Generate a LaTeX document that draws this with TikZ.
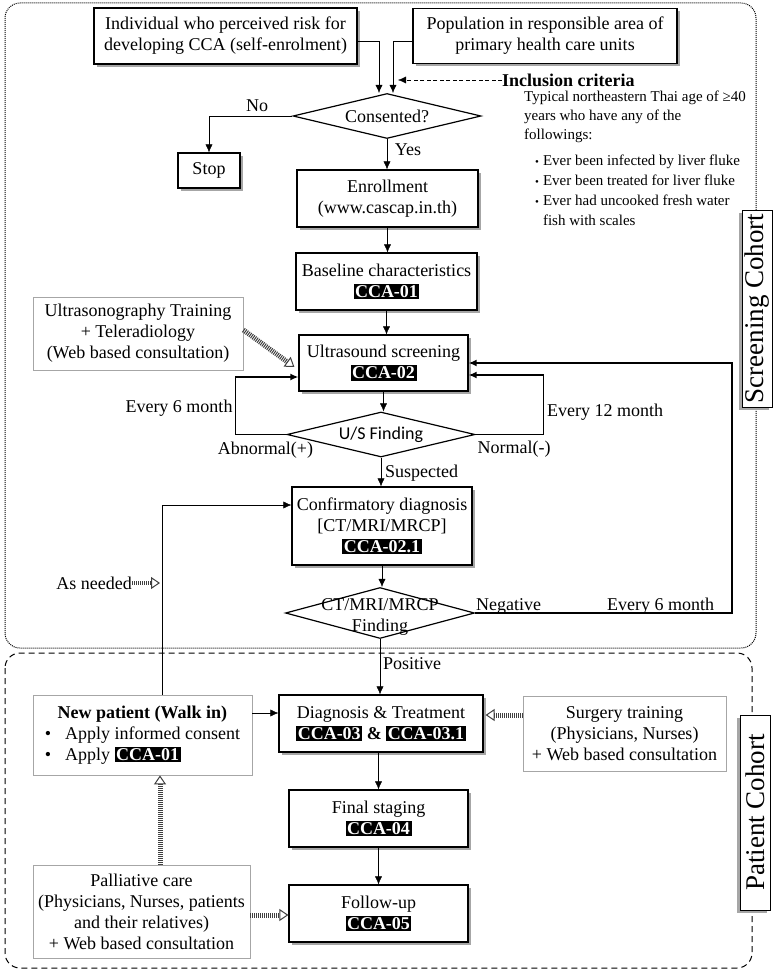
\documentclass[tikz,border=0pt]{standalone}
\usepackage{fontspec}
\setmainfont{Liberation Serif}
\newfontfamily\usfont{Carlito}
\usetikzlibrary{shapes.geometric,shadows,arrows.meta}
\tikzstyle{block}=[draw,line width=1.2pt,fill=white,align=center,inner sep=0pt,drop shadow={shadow xshift=3pt,shadow yshift=-3pt,fill=gray!70,opacity=1}]
\tikzstyle{note}=[draw=gray!70,line width=0.8pt,fill=white,align=center,inner sep=0pt]
\tikzstyle{decision}=[diamond,aspect=4,draw,line width=1.2pt,fill=white,inner sep=0pt]
\tikzstyle{cohort}=[draw,line width=0.8pt,fill=white,rotate=90,inner sep=0pt,font=\fontsize{27}{27}\selectfont,drop shadow={shadow xshift=-3pt,shadow yshift=-3pt,fill=gray!70,opacity=1}]
\tikzstyle{stripe}=[draw=gray!50!black,line width=5pt,dash pattern=on 1pt off 1pt,-{Triangle[open,length=9pt,width=12pt,line width=1pt]}]
\tikzstyle{loopline}=[->,line width=1.6pt]
\newcommand{\ccatag}[1]{{\setlength{\fboxsep}{1.5pt}\colorbox{black}{\textcolor{white}{\textbf{#1}}}}}

\begin{document}
\begin{tikzpicture}[x=1pt,y=-1pt,font=\fontsize{18}{21}\selectfont,>={Latex[length=8pt,width=7pt]}]
\fill[white] (0,0) rectangle (778,974);
\useasboundingbox (0,0) rectangle (778,974);
% cohort frames
\draw[dash pattern=on 1pt off 1pt,line width=1pt,rounded corners=15pt] (5,3) rectangle (756,648);
\draw[dash pattern=on 6pt off 4pt,line width=1pt,rounded corners=15pt] (5,653) rectangle (752,968);
\node[cohort,minimum width=197pt,minimum height=30pt] at (757,308.5) (screen) {Screening Cohort};
\node[cohort,minimum width=195pt,minimum height=30pt] at (755,812.5) (patient) {Patient Cohort};

% screening part
\node[block,minimum width=263pt,minimum height=56pt] at (225.5,36) (indiv) {Individual who perceived risk for\\developing CCA (self-enrolment)};
\node[block,minimum width=264pt,minimum height=55pt] at (545,36) (popul) {Population in responsible area of\\primary health care units};
\node[decision,minimum width=188pt,minimum height=45pt] at (387,116) (consent) {Consented?};
\node[block,minimum width=62pt,minimum height=35pt] at (209,170.5) (stop) {Stop};
\node[block,minimum width=181pt,minimum height=57pt] at (387.5,198.5) (enrol) {Enrollment\\(www.cascap.in.th)};
\node[block,minimum width=181pt,minimum height=57pt] at (386.5,281.5) (base) {Baseline characteristics\\\ccatag{CCA-01}};
\node[note,minimum width=210pt,minimum height=73pt] at (138,333.5) (train) {Ultrasonography Training\\+ Teleradiology\\(Web based consultation)};
\node[block,minimum width=169pt,minimum height=56pt] at (383.5,363) (us) {Ultrasound screening\\\ccatag{CCA-02}};
\node[decision,minimum width=188pt,minimum height=45pt] at (381,434.5) (usf) {\usfont U/S Finding};
\node[anchor=north west,align=left,inner sep=0pt] at (385,465) (susp) {Suspected\\CCA};
\node[block,minimum width=180pt,minimum height=78pt] at (382,526) (conf) {Confirmatory diagnosis\\{}[CT/MRI/MRCP]\\\ccatag{CCA-02.1}};
\node[decision,minimum width=189pt,minimum height=51pt] at (380,613) (ctf) {};
\node[align=center,inner sep=0pt] at (380,617) (ctftext) {CT/MRI/MRCP\\Finding};

% inclusion criteria
\node[anchor=west,inner sep=0pt,font=\fontsize{18}{21}\selectfont\bfseries] at (502,80) (inc) {Inclusion criteria};
\coordinate (incend) at (398,80);
\node[anchor=north west,align=left,inner sep=0pt,font=\fontsize{15}{19}\selectfont] at (524,91) (incdesc) {Typical northeastern Thai age of ≥40\\years who have any of the\\followings:};
\node[anchor=north west,inner sep=0pt,font=\fontsize{15}{20}\selectfont] at (535,151) (incitems) {\begin{tabular}{@{}l@{\hspace{4pt}}l@{}}
{\fontsize{11}{11}\selectfont\textbullet} & Ever been infected by liver fluke\\
{\fontsize{11}{11}\selectfont\textbullet} & Ever been treated for liver fluke\\
{\fontsize{11}{11}\selectfont\textbullet} & Ever had uncooked fresh water\\
 & fish with scales
\end{tabular}};

% patient part
\node[note,minimum width=219pt,minimum height=80pt] at (142.5,735) (newpt) {\begin{tabular}{@{}l@{\hspace{14pt}}l@{}}
\multicolumn{2}{c}{\textbf{New patient (Walk in)}}\\
\textbullet & Apply informed consent\\
\textbullet & Apply \ccatag{CCA-01}
\end{tabular}};
\node[block,minimum width=204pt,minimum height=57pt] at (381,723.5) (diag) {Diagnosis \& Treatment\\\ccatag{CCA-03} \textbf{\&} \ccatag{CCA-03.1}};
\node[note,minimum width=203pt,minimum height=75pt] at (624.5,733.5) (surg) {Surgery training\\(Physicians, Nurses)\\+ Web based consultation};
\node[block,minimum width=179pt,minimum height=57pt] at (378.5,818.5) (final) {Final staging\\\ccatag{CCA-04}};
\node[block,minimum width=179pt,minimum height=57pt] at (378.5,913.5) (follow) {Follow-up\\\ccatag{CCA-05}};
\node[note,minimum width=217pt,minimum height=93pt] at (141.5,911.5) (pall) {Palliative care\\(Physicians, Nurses, patients\\and their relatives)\\+ Web based consultation};

% labels
\node at (257,106) (nolbl) {No};
\node at (408,150) (yeslbl) {Yes};
\node at (179,408) (sixlbl) {Every 6 month};
\node at (265.5,450) (abnlbl) {Abnormal(+)};
\node[anchor=west,inner sep=0pt] at (547,412) (twelvelbl) {Every 12 month};
\node at (514,449) (normlbl) {Normal(-)};
\node[anchor=west,inner sep=0pt] at (476,606) (neglbl) {Negative};
\node[anchor=west,inner sep=0pt] at (607,606) (sixlbltwo) {Every 6 month};
\node[anchor=west,inner sep=0pt] at (383,664) (poslbl) {Positive};
\node[anchor=east,inner sep=0pt] at (132,583) (asneed) {As needed};
\coordinate (asend) at (160,583);

% connectors
\draw[->] ([yshift=-5pt]indiv.east) -| ([xshift=-8pt]consent.north);
\draw[->] ([yshift=-5pt]popul.west) -| ([xshift=6pt]consent.north);
\draw[dash pattern=on 4pt off 2.5pt,->] (inc.west) -- (incend);
\draw[->] (consent.west) -| (stop.north);
\draw[->] (consent.south) -- (consent.south |- enrol.north);
\draw[->] (enrol.south) -- (enrol.south |- base.north);
\draw[->] (base.south) -- (base.south |- us.north);
\draw[->] (us.south) -- (us.south |- usf.north);
\draw[loopline] (usf.west) -- ++(-51,0) |- ([yshift=-14pt]us.west);
\draw[loopline] (usf.east) -- ++(68,0) |- ([yshift=-12pt]us.east);
\draw[->] (usf.south) -- (usf.south |- conf.north);
\draw[->] (conf.south) -- (conf.south |- ctf.north);
\draw[loopline] (ctf.east) -- ++(257,0) |- (us.east);
\draw[->] (ctf.south) -- (ctf.south |- diag.north);
\draw[->] (final.north |- diag.south) -- (final.north);
\draw[->] (final.south) -- (follow.north);
\draw[->] ([yshift=22pt]newpt.east) -- ([yshift=10.5pt]diag.west);
\draw[->] ([xshift=19.5pt]newpt.north) |- ([yshift=21pt]conf.west);
\draw[stripe] ([yshift=3.5pt]train.east) -- ([xshift=-4pt,yshift=-4pt]us.west);
\draw[stripe,line width=4pt] (asneed.east) -- (asend);
\draw[stripe,shorten >=2pt] ([yshift=18.5pt]surg.west) -- ([yshift=8.5pt]diag.east);
\draw[stripe] ([xshift=18.5pt]pall.north) -- ([xshift=17.5pt]newpt.south);
\draw[stripe] ([yshift=-3.5pt]pall.east) -- ([yshift=-1.5pt]follow.west);
\end{tikzpicture}
\end{document}
